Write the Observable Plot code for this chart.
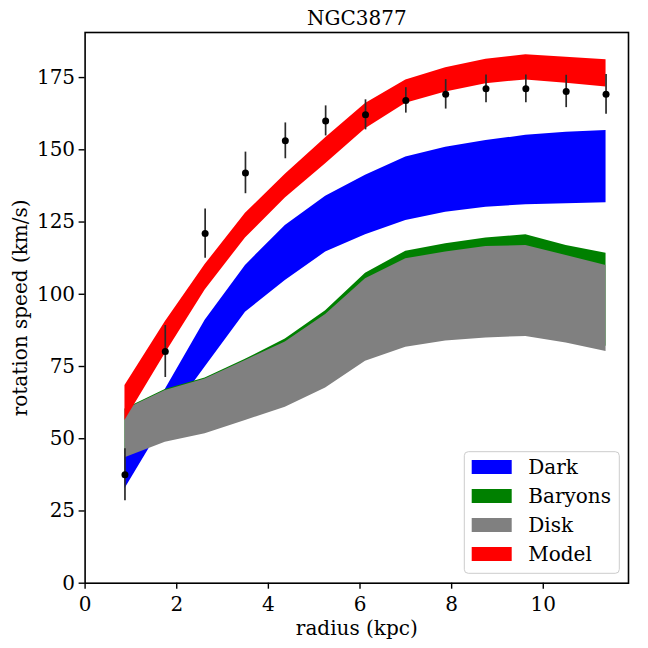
<!DOCTYPE html>
<html><head><meta charset="utf-8">
<script src="https://cdn.jsdelivr.net/npm/d3@7"></script>
<script src="https://cdn.jsdelivr.net/npm/@observablehq/plot@0.6"></script>
<style>body{margin:0;background:#fff} svg{font-family:"DejaVu Serif",serif}</style>
</head><body><div id="chart"></div>
<script>
// ---- data ----
const titleText = "NGC3877";
const xLabel = "radius (kpc)";
const yLabel = "rotation speed (km/s)";
const radius  = [0.87, 1.75, 2.62, 3.50, 4.37, 5.25, 6.12, 7.00, 7.87, 8.75, 9.62, 10.50, 11.37];
const vObs    = [37.5, 80.2, 121.0, 142.0, 153.1, 160.0, 162.1, 167.1, 169.2, 171.1, 171.1, 170.2, 169.2];
const vErr    = [9.0, 9.0, 8.5, 7.2, 6.2, 5.2, 5.2, 4.4, 5.1, 4.8, 4.8, 5.6, 6.9];
const darkLo  = [32.7, 56.0, 74.8, 93.8, 104.8, 114.6, 120.6, 125.5, 128.4, 130.1, 131.0, 131.3, 131.7];
const darkHi  = [44.0, 67.0, 91.0, 110.0, 123.8, 133.9, 141.2, 147.5, 150.9, 153.2, 155.0, 156.1, 156.7];
const baryLo  = [44.5, 50.0, 53.0, 57.5, 62.3, 69.2, 78.5, 83.5, 85.5, 86.6, 87.0, 84.8, 82.0];
const baryHi  = [60.3, 67.0, 71.0, 77.5, 84.5, 94.3, 107.3, 114.9, 117.5, 119.5, 120.6, 116.9, 114.2];
const diskLo  = [43.4, 48.8, 51.7, 56.3, 60.9, 67.6, 76.8, 81.7, 83.8, 84.9, 85.4, 83.1, 80.2];
const diskHi  = [60.0, 66.7, 70.7, 77.1, 83.5, 93.0, 105.4, 112.3, 114.6, 116.5, 116.9, 113.4, 110.0];
const modelLo = [56.3, 79.5, 101.5, 119.5, 133.3, 145.2, 157.3, 166.1, 170.0, 172.9, 174.2, 173.0, 171.7];
const modelHi = [68.4, 90.5, 110.3, 128.0, 141.5, 154.2, 166.0, 174.2, 178.4, 181.3, 182.9, 182.0, 181.2];
const xTicks = [0, 2, 4, 6, 8, 10];
const yTicks = [0, 25, 50, 75, 100, 125, 150, 175];
const legendNames  = ["Dark", "Baryons", "Disk", "Model"];
const legendColors = ["blue", "green", "gray", "red"];

const rows = radius.map((r, i) => ({
  r, v: vObs[i], e: vErr[i],
  darkLo: darkLo[i], darkHi: darkHi[i],
  baryLo: baryLo[i], baryHi: baryHi[i],
  diskLo: diskLo[i], diskHi: diskHi[i],
  modelLo: modelLo[i], modelHi: modelHi[i]
}));

const FS = 20;
const plot = Plot.plot({
  width: 648, height: 648,
  marginLeft: 84.6, marginRight: 20, marginTop: 32, marginBottom: 65.3,
  style: {fontFamily: '"DejaVu Serif", serif', fontSize: FS + "px", color: "black", background: "white"},
  x: {domain: [0, 11.86]},
  y: {domain: [0, 190.6]},
  marks: [
    Plot.areaY(rows, {x: "r", y1: "darkLo", y2: "darkHi", fill: legendColors[0]}),
    Plot.areaY(rows, {x: "r", y1: "baryLo", y2: "baryHi", fill: legendColors[1]}),
    Plot.areaY(rows, {x: "r", y1: "diskLo", y2: "diskHi", fill: legendColors[2]}),
    Plot.areaY(rows, {x: "r", y1: "modelLo", y2: "modelHi", fill: legendColors[3]}),
    Plot.ruleX(rows, {x: "r", y1: d => d.v - d.e, y2: d => d.v + d.e, stroke: "#2a2a2a", strokeWidth: 1.7}),
    Plot.dot(rows, {x: "r", y: "v", r: 3.5, fill: "black"}),
    Plot.frame({stroke: "black", strokeWidth: 1.6}),
    Plot.axisX({ticks: xTicks, tickSize: 6, tickPadding: 8, strokeWidth: 1.4, label: null, fontSize: FS}),
    Plot.axisY({ticks: yTicks, tickSize: 6, tickPadding: 4, strokeWidth: 1.4, label: null, fontSize: FS}),
    Plot.text([titleText], {text: d => d, frameAnchor: "top", lineAnchor: "middle", dy: -14, fontSize: FS}),
    Plot.text([xLabel], {text: d => d, frameAnchor: "bottom", lineAnchor: "middle", dy: 45, fontSize: FS}),
    Plot.text([yLabel], {text: d => d, frameAnchor: "left", textAnchor: "middle", lineAnchor: "middle", dx: -65, rotate: -90, fontSize: FS})
  ]
});
document.getElementById("chart").appendChild(plot);

// legend (matplotlib-style, inside the axes, lower right)
const svg = d3.select(plot);
const lg = svg.append("g").attr("text-anchor", "start");
lg.append("rect").attr("x", 464.3).attr("y", 451.7).attr("width", 155).attr("height", 121.6)
  .attr("rx", 4).attr("fill", "white").attr("fill-opacity", 0.8).attr("stroke", "#cccccc");
legendNames.forEach((name, i) => {
  const cy = 467 + i * 29;
  lg.append("rect").attr("x", 471.7).attr("y", cy - 7).attr("width", 40).attr("height", 14).attr("fill", legendColors[i]);
  lg.append("text").attr("x", 528.3).attr("y", cy).attr("dy", "0.35em").attr("text-anchor", "start")
    .attr("font-size", FS).attr("fill", "black").text(name);
});
</script></body></html>
